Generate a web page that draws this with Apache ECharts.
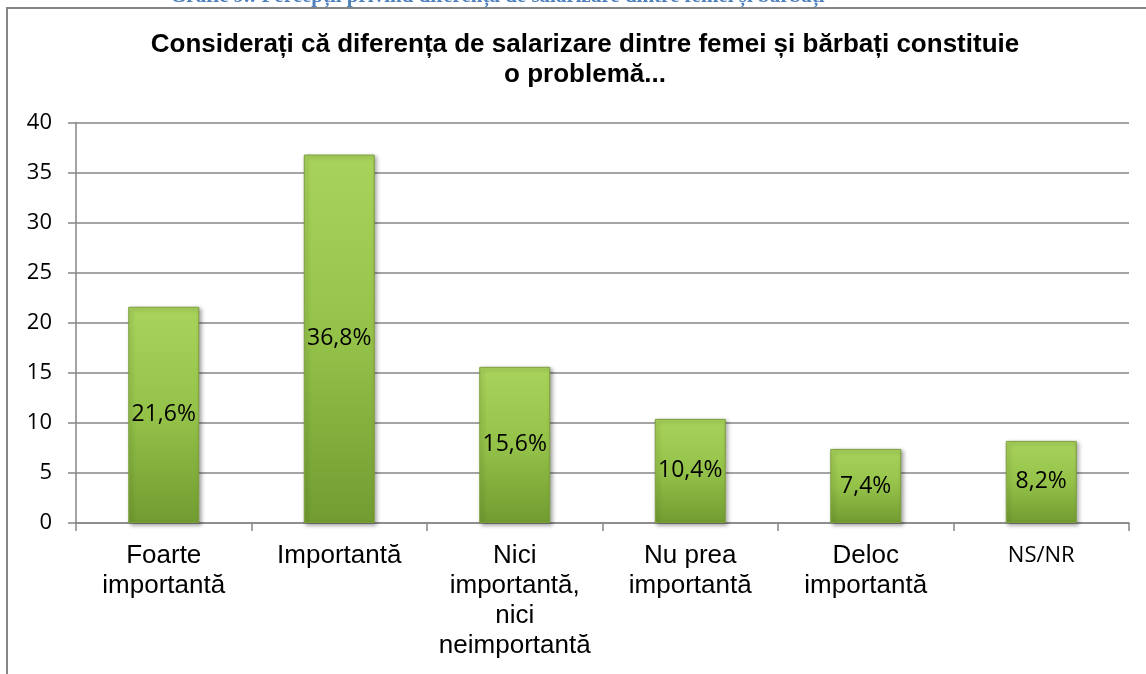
<!DOCTYPE html>
<html>
<head>
<meta charset="utf-8">
<script src="https://cdn.jsdelivr.net/npm/echarts@6/dist/echarts.min.js"></script>
<style>
html,body{margin:0;padding:0;background:#fff;}
#chart{width:1146px;height:674px;}
</style>
</head>
<body>
<div id="chart"></div>
<script>
const categories = ['Foarte\nimportantă', 'Importantă', 'Nici\nimportantă,\nnici\nneimportantă', 'Nu prea\nimportantă', 'Deloc\nimportantă', 'NS/NR'];
const values = [21.6, 36.8, 15.6, 10.4, 7.4, 8.2];
const yTicks = [0, 5, 10, 15, 20, 25, 30, 35, 40];
const chartTitle = 'Considerați că diferența de salarizare dintre femei și bărbați constituie\no problemă...';
const caption = 'Grafic 9.: Percepții privind diferența de salarizare dintre femei și bărbați';

const chart = echarts.init(document.getElementById('chart'), null, {renderer: 'canvas'});
chart.setOption({
  animation: false,
  backgroundColor: '#ffffff',
  title: {
    text: chartTitle,
    left: 585,
    top: 30,
    padding: 0,
    textAlign: 'center',
    textStyle: {
      fontFamily: 'Liberation Sans, Arial, sans-serif',
      fontWeight: 'bold',
      fontSize: 26,
      lineHeight: 30,
      color: '#000'
    }
  },
  graphic: [
    {
      type: 'polyline',
      shape: {points: [[7, 700], [7, 8], [1160, 8]]},
      style: {stroke: '#868686', lineWidth: 2, fill: null},
      silent: true
    },
    {
      type: 'text',
      left: 170,
      y: -3,
      style: {
        text: caption,
        fontFamily: 'Liberation Serif, Times New Roman, serif',
        fontWeight: 'bold',
        fontSize: 21,
        fill: '#4f81bd',
        verticalAlign: 'middle'
      },
      silent: true
    }
  ],
  grid: {left: 76, right: 17, top: 122.5, bottom: 151, containLabel: false},
  xAxis: {
    type: 'category',
    data: categories,
    axisLine: {lineStyle: {color: '#868686', width: 1.5}},
    axisTick: {show: true, length: 8, lineStyle: {color: '#868686', width: 1.5}},
    axisLabel: {
      interval: 0,
      margin: 18,
      color: '#000',
      fontFamily: 'Liberation Sans, Arial, sans-serif',
      fontSize: 26,
      lineHeight: 30,
      formatter: function (v) { return v === 'NS/NR' ? '{c|' + v + '}' : v; },
      rich: {
        c: {fontFamily: 'Open Sans, sans-serif', fontSize: 22, lineHeight: 30, color: '#000'}
      }
    }
  },
  yAxis: {
    type: 'value',
    min: yTicks[0],
    max: yTicks[yTicks.length - 1],
    interval: 5,
    axisLine: {show: true, lineStyle: {color: '#868686', width: 1.5}},
    axisTick: {show: true, length: 8, lineStyle: {color: '#868686', width: 1.5}},
    splitLine: {show: true, lineStyle: {color: '#868686', width: 1.5}},
    axisLabel: {
      margin: 24,
      color: '#000',
      fontFamily: 'Open Sans, sans-serif',
      fontSize: 22
    }
  },
  series: [{
    type: 'bar',
    data: values,
    barWidth: 71,
    itemStyle: {
      color: {
        type: 'linear', x: 0, y: 0, x2: 0, y2: 1,
        colorStops: [
          {offset: 0, color: '#a9d45c'},
          {offset: 0.5, color: '#94c249'},
          {offset: 1, color: '#719c31'}
        ]
      },
      borderColor: '#7d9f3c',
      borderWidth: 1,
      shadowColor: 'rgba(0,0,0,0.35)',
      shadowBlur: 4,
      shadowOffsetX: 2,
      shadowOffsetY: 2
    },
    label: {
      show: true,
      position: 'inside',
      color: '#000',
      fontFamily: 'Open Sans, sans-serif',
      fontSize: 23,
      formatter: function (p) { return String(p.value).replace('.', ',') + '%'; }
    }
  }]
});
</script>
</body>
</html>
